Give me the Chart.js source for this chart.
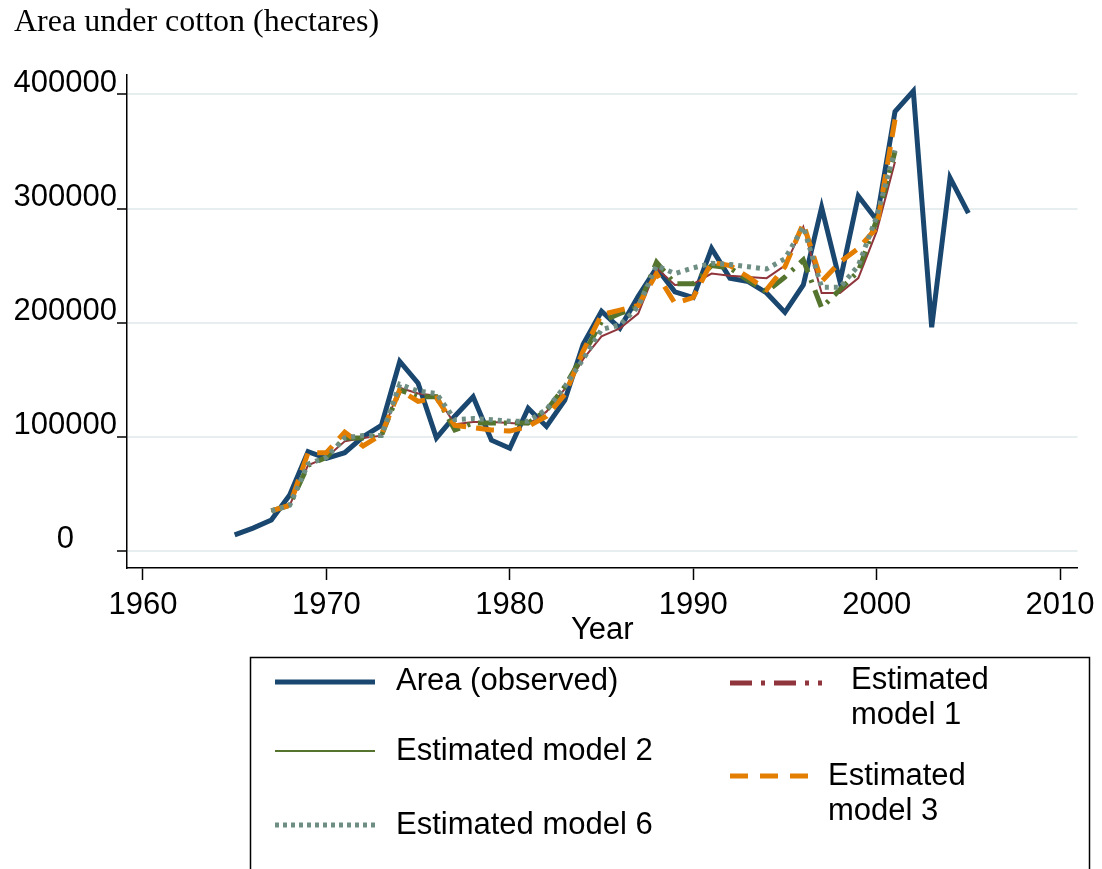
<!DOCTYPE html>
<html>
<head>
<meta charset="utf-8">
<title>Area under cotton</title>
<script src="https://cdn.jsdelivr.net/npm/chart.js@4.4.1/dist/chart.umd.min.js"></script>
<style>
  html, body { margin: 0; padding: 0; background: #ffffff; }
  #wrap { position: relative; width: 1102px; height: 869px; }
</style>
</head>
<body>
<div id="wrap"><canvas id="chart"></canvas></div>
<script>
// observed area, 1965 - 2005
let years = [1965, 1966, 1967, 1968, 1969, 1970, 1971, 1972, 1973, 1974,
  1975, 1976, 1977, 1978, 1979, 1980, 1981, 1982, 1983, 1984,
  1985, 1986, 1987, 1988, 1989, 1990, 1991, 1992, 1993, 1994,
  1995, 1996, 1997, 1998, 1999, 2000, 2001, 2002, 2003, 2004, 2005];
let observed = [14000, 20000, 27000, 49000, 87000, 81000, 86000, 100000, 110000, 166000,
  147000, 99000, 118000, 135000, 97000, 90000, 125000, 109000, 132000, 181000,
  210000, 195000, 223000, 248000, 227000, 222000, 265000, 239000, 236000, 226000,
  209000, 233000, 301000, 236000, 311000, 290000, 385000, 403000, 196000, 327000, 296000];

// model estimates, 1967 - 2001
let modelYears = [1967, 1968, 1969, 1970, 1971, 1972, 1973, 1974, 1975, 1976,
  1977, 1978, 1979, 1980, 1981, 1982, 1983, 1984, 1985, 1986,
  1987, 1988, 1989, 1990, 1991, 1992, 1993, 1994, 1995, 1996,
  1997, 1998, 1999, 2000, 2001];
let model1 = [35000, 40000, 75000, 82000, 96000, 99000, 101000, 143000, 138000, 136000,
  111000, 113000, 113000, 112000, 111000, 122000, 142000, 168000, 188000, 195000,
  208000, 248000, 233000, 234000, 243000, 241000, 240000, 239000, 250000, 284000,
  226000, 226000, 239000, 280000, 341000];
let model2 = [35000, 40000, 75000, 82000, 99000, 99000, 101000, 141000, 135000, 135000,
  106000, 112000, 112000, 112000, 112000, 123000, 144000, 172000, 201000, 208000,
  214000, 253000, 234000, 234000, 250000, 248000, 237000, 227000, 240000, 255000,
  213000, 229000, 245000, 290000, 350000];
let model3 = [35000, 40000, 86000, 86000, 104000, 92000, 102000, 141000, 131000, 134000,
  110000, 108000, 106000, 105000, 109000, 118000, 137000, 175000, 207000, 211000,
  215000, 243000, 217000, 222000, 253000, 250000, 240000, 229000, 249000, 287000,
  236000, 253000, 265000, 283000, 378000];
let model6 = [35000, 40000, 76000, 82000, 99000, 101000, 101000, 146000, 140000, 138000,
  115000, 116000, 115000, 113500, 113500, 124000, 144000, 168000, 194000, 198000,
  214000, 250000, 243000, 248000, 252000, 251000, 249000, 247000, 256000, 284000,
  231000, 231000, 250000, 293000, 351000];

let xTicks = [1960, 1970, 1980, 1990, 2000, 2010];
let yTicks = [0, 100000, 200000, 300000, 400000];
let seriesNames = ["Area (observed)", "Estimated model 1", "Estimated model 2",
  "Estimated model 3", "Estimated model 6"];
let yTitle = "Area under cotton (hectares)";
let xTitle = "Year";

let navy = "#1a476f";
let maroon = "#90353b";
let green = "#55752f";
let orange = "#e37e00";
let teal = "#6e8e84";
let sans = "'Liberation Sans', Arial, sans-serif";

function toPoints(xs, ys) {
  let pts = [];
  for (let i = 0; i < xs.length; i++) {
    pts.push({ x: xs[i], y: ys[i] });
  }
  return pts;
}

// draw one legend sample line
function drawSample(ctx, x1, x2, y, color, width, dash) {
  ctx.save();
  ctx.strokeStyle = color;
  ctx.lineWidth = width;
  ctx.setLineDash(dash);
  ctx.beginPath();
  ctx.moveTo(x1, y);
  ctx.lineTo(x2, y);
  ctx.stroke();
  ctx.restore();
}

// split a label into lines no wider than maxW
function wrapText(ctx, text, maxW) {
  let words = text.split(" ");
  let lines = [];
  let cur = "";
  for (let w of words) {
    let test = cur ? cur + " " + w : w;
    if (cur && ctx.measureText(test).width > maxW) {
      lines.push(cur);
      cur = w;
    } else {
      cur = test;
    }
  }
  if (cur) lines.push(cur);
  return lines;
}

function drawLabel(ctx, text, x, y, maxW) {
  let lines = wrapText(ctx, text, maxW);
  for (let i = 0; i < lines.length; i++) {
    ctx.fillText(lines[i], x, y + i * 35);
  }
}

// title at top left and the boxed legend under the plot
let extras = {
  id: "extras",
  afterDraw: function(chart) {
    let ctx = chart.ctx;
    ctx.save();
    ctx.fillStyle = "#000";
    ctx.textBaseline = "middle";
    ctx.textAlign = "left";
    ctx.font = "32px 'Liberation Serif', 'Times New Roman', serif";
    ctx.fillText(yTitle, 14, 23);

    ctx.strokeStyle = "#000";
    ctx.lineWidth = 1.5;
    ctx.strokeRect(250.5, 657.5, 839, 240);

    ctx.font = "31px " + sans;
    // left column
    drawSample(ctx, 275, 375, 682, navy, 5, []);
    drawLabel(ctx, seriesNames[0], 396, 681, 400);
    drawSample(ctx, 275, 375, 751, green, 2, []);
    drawLabel(ctx, seriesNames[2], 396, 751, 400);
    drawSample(ctx, 275, 375, 825, teal, 5, [4, 4]);
    drawLabel(ctx, seriesNames[4], 396, 825, 400);
    // right column
    drawSample(ctx, 730, 822, 683, maroon, 5, [22, 9, 4, 9]);
    drawLabel(ctx, seriesNames[1], 851, 680, 160);
    drawSample(ctx, 730, 818, 776, orange, 5, [18, 12]);
    drawLabel(ctx, seriesNames[3], 828, 776, 160);
    ctx.restore();
  }
};

let ctx = document.getElementById("chart").getContext("2d");
let myChart = new Chart(ctx, {
  type: "line",
  data: {
    datasets: [
      { label: seriesNames[0], data: toPoints(years, observed), borderColor: navy,
        borderWidth: 5, order: 5 },
      { label: seriesNames[1], data: toPoints(modelYears, model1), borderColor: maroon,
        borderWidth: 2, order: 4 },
      { label: seriesNames[2], data: toPoints(modelYears, model2), borderColor: green,
        borderWidth: 5, borderDash: [18, 8, 3, 8], order: 3 },
      { label: seriesNames[3], data: toPoints(modelYears, model3), borderColor: orange,
        borderWidth: 5, borderDash: [18, 10], order: 2 },
      { label: seriesNames[4], data: toPoints(modelYears, model6), borderColor: teal,
        borderWidth: 5, borderDash: [4, 5], order: 1 }
    ]
  },
  options: {
    responsive: true,
    maintainAspectRatio: false,
    animation: false,
    layout: { padding: { left: 0, right: 24, top: 75, bottom: 220 } },
    elements: {
      point: { radius: 0 },
      line: { tension: 0, fill: false }
    },
    plugins: {
      legend: { display: false },
      tooltip: { enabled: false }
    },
    scales: {
      x: {
        type: "linear",
        min: 1959.13,
        max: 2010.95,
        afterBuildTicks: function(axis) {
          axis.ticks = xTicks.map(v => ({ value: v }));
        },
        afterFit: function(scale) { scale.height = 81; },
        grid: { drawOnChartArea: false, drawTicks: true, tickLength: 12,
          tickColor: "#000", tickWidth: 1.5 },
        border: { display: true, color: "#000", width: 1.5 },
        ticks: { color: "#000", font: { family: sans, size: 31 }, padding: 7,
          maxRotation: 0, autoSkip: false, callback: v => String(v) },
        title: { display: true, text: xTitle, color: "#000",
          font: { family: sans, size: 31 }, padding: 0 }
      },
      y: {
        type: "linear",
        min: -15000,
        max: 417000,
        afterBuildTicks: function(axis) {
          axis.ticks = yTicks.map(v => ({ value: v }));
        },
        afterFit: function(scale) { scale.width = 127; },
        grid: { color: "#e6eef0", lineWidth: 2, drawTicks: true, tickLength: 10,
          tickColor: "#000", tickWidth: 1.5 },
        border: { display: true, color: "#000", width: 1.5 },
        ticks: { color: "#000", font: { family: sans, size: 31 }, padding: 0,
          crossAlign: "center", labelOffset: -11, callback: v => String(v) }
      }
    }
  },
  plugins: [extras]
});
</script>
</body>
</html>
